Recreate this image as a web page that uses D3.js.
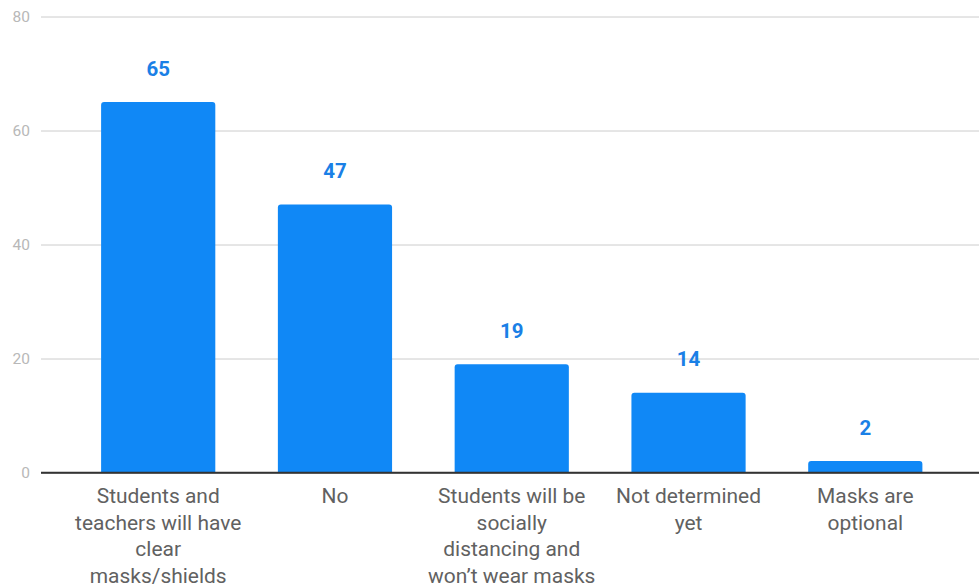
<!DOCTYPE html>
<html>
<head>
<meta charset="utf-8">
<script src="https://cdnjs.cloudflare.com/ajax/libs/d3/7.8.5/d3.min.js"></script>
<style>
  html, body { margin: 0; padding: 0; background: #fff; }
  svg { display: block; font-family: Roboto, "Noto Sans", sans-serif; }
</style>
</head>
<body>
<svg id="chart" width="979" height="584"></svg>
<script>
const categories = [
  "Students and\nteachers will have\nclear\nmasks/shields",
  "No",
  "Students will be\nsocially\ndistancing and\nwon’t wear masks",
  "Not determined\nyet",
  "Masks are\noptional"
];
const values = [65, 47, 19, 14, 2];
const yTicks = [0, 20, 40, 60, 80];

(function () {
const svg = d3.select("#chart");
const mLeft = 41, mRight = 982.5, mTop = 16.5, mBottom = 472.5;

const x = d3.scaleBand()
  .domain(categories)
  .range([mLeft, mRight])
  .paddingInner(0.354)
  .paddingOuter(0.34);

const y = d3.scaleLinear().domain([0, 80]).range([mBottom, mTop]);

// gridlines
const yAxis = d3.axisLeft(y).tickValues(yTicks).tickSize(-(979 - mLeft)).tickPadding(11);
const gy = svg.append("g").attr("transform", `translate(${mLeft},0)`).call(yAxis);
gy.select(".domain").remove();
gy.selectAll(".tick line").attr("stroke", d => d === 0 ? "#333" : "#cccccc").attr("stroke-width", d => d === 0 ? 1.3 : 1);
gy.selectAll(".tick text")
  .attr("fill", "#b8b8b8")
  .style("font-size", "15.5px")
  .style("font-family", "Roboto, sans-serif");

// bars with rounded top corners
const r = 3;
function barPath(x0, w, yTop, yBot) {
  return `M${x0},${yBot} V${yTop + r} Q${x0},${yTop} ${x0 + r},${yTop} H${x0 + w - r} Q${x0 + w},${yTop} ${x0 + w},${yTop + r} V${yBot} Z`;
}
const bars = svg.append("g");
categories.forEach((c, i) => {
  bars.append("path")
    .attr("d", barPath(x(c), x.bandwidth(), y(values[i]), y(0)))
    .attr("fill", "#1088f6");
});

// baseline on top
svg.append("line")
  .attr("x1", mLeft).attr("x2", 979)
  .attr("y1", y(0)).attr("y2", y(0))
  .attr("stroke", "#333").attr("stroke-width", 1.3);

// value labels
svg.append("g").selectAll("text")
  .data(categories)
  .join("text")
  .attr("transform", (d, i) => `translate(${x(d) + x.bandwidth() / 2},${y(values[i]) - 26.5}) scale(1.05,1)`)
  .attr("text-anchor", "middle")
  .attr("fill", "#1a80e6")
  .style("font-size", "19.5px")
  .style("font-weight", "bold")
  .text((d, i) => values[i]);

// category labels
const cl = svg.append("g");
categories.forEach(c => {
  const t = cl.append("text")
    .attr("transform", `translate(${x(c) + x.bandwidth() / 2},0) scale(1.075,1)`)
    .attr("text-anchor", "middle")
    .attr("fill", "#616161")
    .style("font-size", "19.5px");
  c.split("\n").forEach((line, j) => {
    t.append("tspan")
      .attr("x", 0)
      .attr("y", 503 + j * 26.7)
      .text(line);
  });
});
})();
</script>
</body>
</html>
